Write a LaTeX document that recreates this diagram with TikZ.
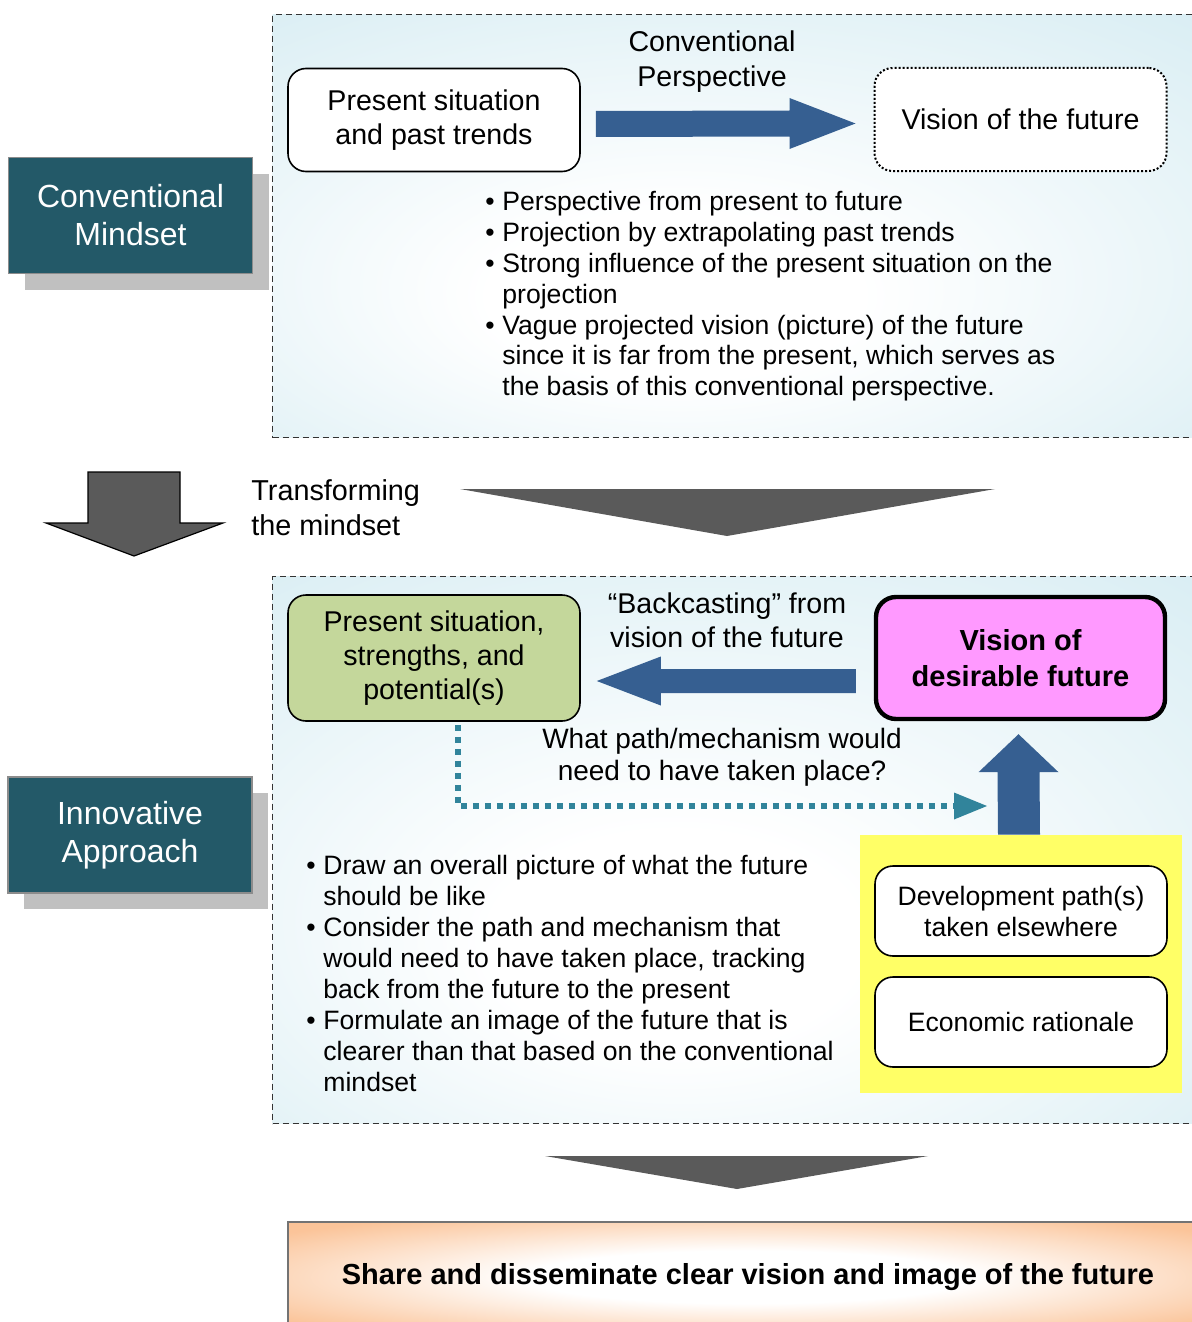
\documentclass[tikz,border=0pt]{standalone}
\usepackage{fontspec}
\setmainfont{Liberation Sans}
\usetikzlibrary{calc,shadows}

\definecolor{mindteal}{RGB}{35,89,104}
\definecolor{shadowgray}{RGB}{192,192,192}
\definecolor{flowblue}{RGB}{54,95,145}
\definecolor{pathteal}{RGB}{49,132,155}
\definecolor{presentgreen}{RGB}{196,215,155}
\definecolor{visionpink}{RGB}{255,153,255}
\definecolor{factoryellow}{RGB}{255,255,102}
\definecolor{blockgray}{RGB}{90,90,90}
\definecolor{panelblue}{RGB}{216,237,243}
\definecolor{sharepeach}{RGB}{250,186,136}

\pgfdeclareradialshading{panelglow}{\pgfpoint{-4bp}{-10bp}}{%
  color(0bp)=(white); color(10bp)=(white); color(40bp)=(panelblue); color(60bp)=(panelblue)}
\pgfdeclareradialshading{shareglow}{\pgfpoint{0bp}{0bp}}{%
  color(0bp)=(white); color(12bp)=(white); color(32bp)=(sharepeach!85); color(50bp)=(sharepeach)}

\newcommand{\fs}[2]{\fontsize{#1}{#2}\selectfont}
\newcommand{\bul}{\textbullet}

\begin{document}
\begin{tikzpicture}[x=0.5pt,y=-0.5pt,
  panel/.style={shading=panelglow, draw=black!80, line width=0.6pt,
    dash pattern=on 3pt off 2pt, anchor=north west, inner sep=0pt},
  mindbox/.style={fill=mindteal, draw=black!45, line width=0.6pt, text=white,
    align=center, minimum width=122pt, minimum height=58pt, font=\fs{16}{19},
    drop shadow={shadow xshift=8pt, shadow yshift=-8pt, fill=shadowgray, opacity=1}},
  roundbox/.style={draw=black, line width=0.8pt, rounded corners=9pt, align=center,
    minimum width=146pt, minimum height=51.5pt, font=\fs{14.3}{17.2}},
  factorbox/.style={roundbox, fill=white, minimum height=45pt, font=\fs{13.3}{15.5}},
  label/.style={align=center, inner sep=0pt},
  points/.style={anchor=base west, inner sep=0pt, font=\fs{13.3}{15.5}},
  flow/.style={fill=flowblue},
  bigdown/.style={fill=blockgray},
]
\useasboundingbox (0,0) rectangle (1192,1322);

% ---------- panels ----------
\node[panel, minimum width=464pt, minimum height=211.5pt] (convpanel) at (272,14) {};
\node[panel, minimum width=464pt, minimum height=273.5pt] (innopanel) at (272,576) {};

% ---------- left-hand headings ----------
\node[mindbox] (conv) at (130.5,215.5) {Conventional\\Mindset};
\node[mindbox] (inno) at (130,835) {Innovative\\Approach};

% ---------- conventional perspective ----------
\node[roundbox, fill=white] (past) at (434,120) {Present situation\\and past trends};
\node[roundbox, fill=white, dash pattern=on 1pt off 1pt, line width=1pt] (vis) at (1020.5,119.5) {Vision of the future};
\node[label, font=\fs{14.3}{17.5}] (convlabel) at (712,62) {Conventional\\Perspective};

\coordinate (a1s) at ([xshift=7.5pt,yshift=-2pt]past.east);
\coordinate (a1e) at ([xshift=-9pt,yshift=-2pt]vis.west);
\fill[flow] ($(a1s)+(0,-13)$) -- ($(a1e)+(-66,-13)$) -- ($(a1e)+(-66,-25.5)$) -- (a1e)
  -- ($(a1e)+(-66,25.5)$) -- ($(a1e)+(-66,13)$) -- ($(a1s)+(0,13)$) -- cycle;

\node[points] (convpoints) at (485,210) {%
  \begin{tabular}[t]{@{}p{8.5pt}@{}l@{}}
  \bul & Perspective from present to future\\
  \bul & Projection by extrapolating past trends\\
  \bul & Strong influence of the present situation on the\\
       & projection\\
  \bul & Vague projected vision (picture) of the future\\
       & since it is far from the present, which serves as\\
       & the basis of this conventional perspective.
  \end{tabular}};

% ---------- transformation ----------
\fill[bigdown, draw=black, line width=0.6pt] (88,472) -- (180,472) -- (180,523) -- (223,523)
  -- (134,556) -- (46,523) -- (88,523) -- cycle;
\node[label, font=\fs{14.4}{17.5}, align=left, anchor=west] (transform) at (251,507.5) {Transforming\\the mindset};
\fill[bigdown] (460,489) -- (995,489) -- (727,536) -- cycle;

% ---------- innovative approach ----------
\node[roundbox, fill=presentgreen, minimum height=63pt] (now) at (434,658) {Present situation,\\strengths, and\\potential(s)};
\node[roundbox, fill=visionpink, line width=2.2pt, rounded corners=10pt, minimum width=144.5pt,
  minimum height=61pt, font=\bfseries\fs{14.5}{18}] (fut) at (1020.5,658) {Vision of\\desirable future};
\node[label, font=\fs{14.3}{17}] (backlabel) at (727,620) {“Backcasting” from\\vision of the future};

\coordinate (a2s) at ([xshift=-9pt,yshift=-11.5pt]fut.west);
\coordinate (a2e) at ([xshift=8pt,yshift=-11.5pt]now.east);
\fill[flow] ($(a2s)+(0,-12)$) -- ($(a2e)+(64,-12)$) -- ($(a2e)+(64,-24.5)$) -- (a2e)
  -- ($(a2e)+(64,24.5)$) -- ($(a2e)+(64,12)$) -- ($(a2s)+(0,12)$) -- cycle;

\node[label, font=\fs{14}{16}] (whatlabel) at (722,757) {What path/mechanism would\\need to have taken place?};

\node[fill=factoryellow, minimum width=161pt, minimum height=129pt] (factors) at (1021,964) {};
\node[factorbox] (devpath) at (1021,911) {Development path(s)\\taken elsewhere};
\node[factorbox] (econ) at (1021,1022) {Economic rationale};

\coordinate (a3s) at ([xshift=-1pt]factors.north);
\coordinate (a3e) at ([xshift=-1pt,yshift=-6.5pt]fut.south);
\fill[flow] ($(a3s)+(-21,0)$) -- ($(a3e)+(-21,38)$) -- ($(a3e)+(-40,38)$) -- (a3e)
  -- ($(a3e)+(40,38)$) -- ($(a3e)+(21,38)$) -- ($(a3s)+(21,0)$) -- cycle;

\coordinate (dstart) at ([xshift=12pt,yshift=-1.5pt]now.south);
\coordinate (dtip) at (987,806);
\draw[pathteal, line width=2.6pt, dash pattern=on 3pt off 3pt] (dstart) |- ($(dtip)+(-34,0)$);
\fill[pathteal] ($(dtip)+(-33,-13.5)$) -- (dtip) -- ($(dtip)+(-33,13.5)$) -- cycle;

\node[points] (innopoints) at (306,874) {%
  \begin{tabular}[t]{@{}p{8.5pt}@{}l@{}}
  \bul & Draw an overall picture of what the future\\
       & should be like\\
  \bul & Consider the path and mechanism that\\
       & would need to have taken place, tracking\\
       & back from the future to the present\\
  \bul & Formulate an image of the future that is\\
       & clearer than that based on the conventional\\
       & mindset
  \end{tabular}};

% ---------- outcome ----------
\fill[bigdown] (545,1156) -- (928,1156) -- (737,1189) -- cycle;
\node[shading=shareglow, draw=black!55, line width=1pt, minimum width=460pt, minimum height=55pt,
  font=\bfseries\fs{14.5}{17}] (share) at (748,1277) {Share and disseminate clear vision and image of the future};
\end{tikzpicture}
\end{document}
